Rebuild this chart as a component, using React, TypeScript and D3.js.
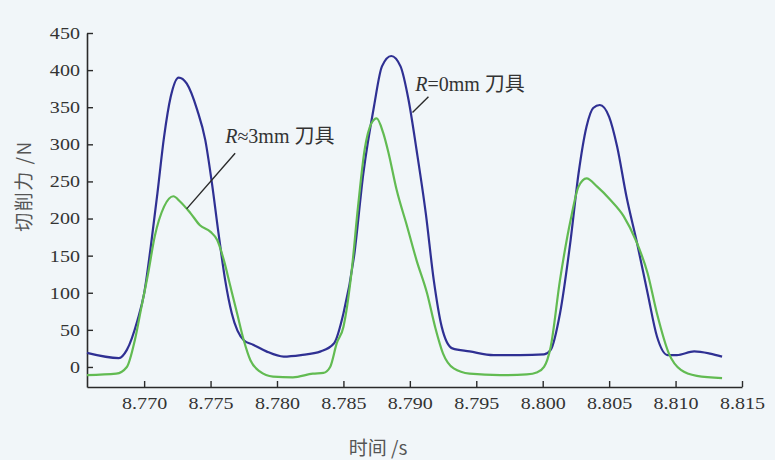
import React, { useEffect, useRef } from "react";
import * as d3 from "d3";

// R=0mm tool (blue)
const timeR0 = [
  8.7657, 8.7681, 8.7687, 8.7695, 8.7700, 8.7705, 8.7710, 8.7715, 8.7720, 8.7726,
  8.7732, 8.7740, 8.7746, 8.7751, 8.7756, 8.7761, 8.7766, 8.7775, 8.7782, 8.7792,
  8.7805, 8.7818, 8.7833, 8.7843,
  8.7850, 8.7858, 8.7865, 8.7873, 8.7879, 8.7886, 8.7893, 8.7899, 8.7905, 8.7912,
  8.7918, 8.7924, 8.7932, 8.7945, 8.7963, 8.7983,
  8.8001, 8.8006, 8.8013, 8.8021, 8.8027, 8.8033, 8.8038, 8.8043, 8.8050, 8.8056,
  8.8063, 8.8071, 8.8079, 8.8086, 8.8094, 8.8101, 8.8114, 8.8126, 8.8135,
]
const forceR0 = [
  19, 12, 23, 63, 99, 162, 234, 310, 364, 390,
  382, 346, 306, 248, 180, 117, 72, 36, 30, 21,
  14, 16, 21, 32,
  72, 149, 261, 351, 405, 419, 405, 360, 293, 207,
  117, 54, 25, 21, 16, 16,
  17, 23, 72, 171, 261, 324, 349, 353, 337, 297,
  230, 167, 99, 41, 16, 16, 21, 18, 14,
]

// R≈3mm tool (green)
const timeR3 = [
  8.7657, 8.7679, 8.7687, 8.7693, 8.7698, 8.7703, 8.7708, 8.7715, 8.7722, 8.7727,
  8.7735, 8.7742, 8.7750, 8.7755, 8.7760, 8.7765, 8.7770, 8.7775, 8.7780, 8.7787,
  8.7797, 8.7812, 8.7827, 8.7835, 8.7840, 8.7845,
  8.7850, 8.7856, 8.7861, 8.7866, 8.7871, 8.7875, 8.7880, 8.7884, 8.7890, 8.7898,
  8.7905, 8.7913, 8.7919, 8.7925, 8.7933, 8.7945, 8.7968, 8.7988, 8.7996,
  8.8001, 8.8006, 8.8013, 8.8021, 8.8027, 8.8033, 8.8041, 8.8051, 8.8061, 8.8070,
  8.8079, 8.8086, 8.8095, 8.8104, 8.8116, 8.8135,
]
const forceR3 = [
  -11, -9, 0, 36, 81, 126, 176, 216, 230, 223,
  207, 191, 182, 171, 144, 108, 72, 36, 9, -6,
  -13, -14, -9, -8, 0, 32,
  54, 126, 216, 293, 328, 335, 315, 288, 239, 189,
  144, 99, 54, 18, -2, -9, -11, -10, -7,
  0, 27, 117, 198, 243, 254, 243, 225, 203, 171,
  126, 72, 18, -4, -12, -15,
]

const xTicks = [8.770, 8.775, 8.780, 8.785, 8.790, 8.795, 8.800, 8.805, 8.810, 8.815]
const yTicks = [0, 50, 100, 150, 200, 250, 300, 350, 400, 450]

// annotations, in data units: text anchor [time, force], leader [time, force, time, force]
const noteLabels = ['3mm 刀具', '0mm 刀具']
const noteSymbols = ['≈', '=']
const noteText = [[8.7761, 302], [8.7904, 372]]
const noteLeader = [[8.77685, 288, 8.7732, 213], [8.7914, 364, 8.7902, 343]]

const App = () => {
  const chart = useRef<SVGSVGElement>(null)

  useEffect(() => {
    const svg = d3.select(chart.current)
    svg.selectAll('*').remove()

    const x = d3.scaleLinear().domain([8.7657, 8.815]).range([87, 742])
    const y = d3.scaleLinear().domain([-27, 450]).range([387, 33])

    svg.append('rect').attr('width', 775).attr('height', 460).attr('fill', '#f1f6f9')

    const xAxis = svg.append('g')
      .attr('transform', 'translate(0,387)')
      .call(d3.axisBottom(x).tickValues(xTicks).tickFormat(d3.format('.3f'))
        .tickSizeInner(-6).tickSizeOuter(0).tickPadding(10))
    const yAxis = svg.append('g')
      .attr('transform', 'translate(87,0)')
      .call(d3.axisLeft(y).tickValues(yTicks).tickFormat(d3.format('d'))
        .tickSizeInner(-6).tickSizeOuter(0).tickPadding(6))

    for (const g of [xAxis, yAxis]) {
      g.select('.domain').attr('stroke', '#2a2a2a').attr('stroke-width', 1.6)
      g.selectAll('.tick line').attr('stroke', '#2a2a2a').attr('stroke-width', 1.4)
      g.selectAll('.tick text')
        .attr('font-family', '"Liberation Serif", serif')
        .attr('font-size', 17)
        .attr('fill', '#333')
        .attr('transform', 'scale(1.18,1)')
    }

    const line = d3.line<[number, number]>()
      .x(d => x(d[0]))
      .y(d => y(d[1]))
      .curve(d3.curveMonotoneX)

    svg.append('path')
      .datum(timeR0.map((t, i) => [t, forceR0[i]] as [number, number]))
      .attr('d', line)
      .attr('fill', 'none')
      .attr('stroke', '#2f3093')
      .attr('stroke-width', 2.2)

    svg.append('path')
      .datum(timeR3.map((t, i) => [t, forceR3[i]] as [number, number]))
      .attr('d', line)
      .attr('fill', 'none')
      .attr('stroke', '#62bb52')
      .attr('stroke-width', 2.2)

    noteLeader.forEach(l => {
      svg.append('line')
        .attr('x1', x(l[0])).attr('y1', y(l[1]))
        .attr('x2', x(l[2])).attr('y2', y(l[3]))
        .attr('stroke', '#2a2a2a').attr('stroke-width', 1.4)
    })

    noteText.forEach((p, i) => {
      const t = svg.append('text')
        .attr('x', x(p[0])).attr('y', y(p[1]))
        .attr('font-family', '"Liberation Serif", "Noto Sans CJK SC", serif')
        .attr('font-size', 20)
        .attr('fill', '#333')
      t.append('tspan').attr('font-style', 'italic').text('R')
      t.append('tspan').text(noteSymbols[i] + noteLabels[i])
    })

    svg.append('text')
      .attr('transform', 'translate(22,186) rotate(-90)')
      .attr('text-anchor', 'middle')
      .attr('dominant-baseline', 'central')
      .attr('font-family', '"Noto Sans CJK SC", sans-serif')
      .attr('font-size', 19)
      .attr('letter-spacing', 1.5)
      .attr('fill', '#555')
      .text('切削力 /N')

    svg.append('text')
      .attr('x', 378).attr('y', 455)
      .attr('text-anchor', 'middle')
      .attr('font-family', '"Noto Sans CJK SC", sans-serif')
      .attr('font-size', 19)
      .attr('fill', '#555')
      .text('时间 /s')
  }, [])

  return (
    <svg ref={chart} width={775} height={460}
      style={{ position: 'absolute', left: 0, top: 0, display: 'block' }} />
  )
};

export default App;
